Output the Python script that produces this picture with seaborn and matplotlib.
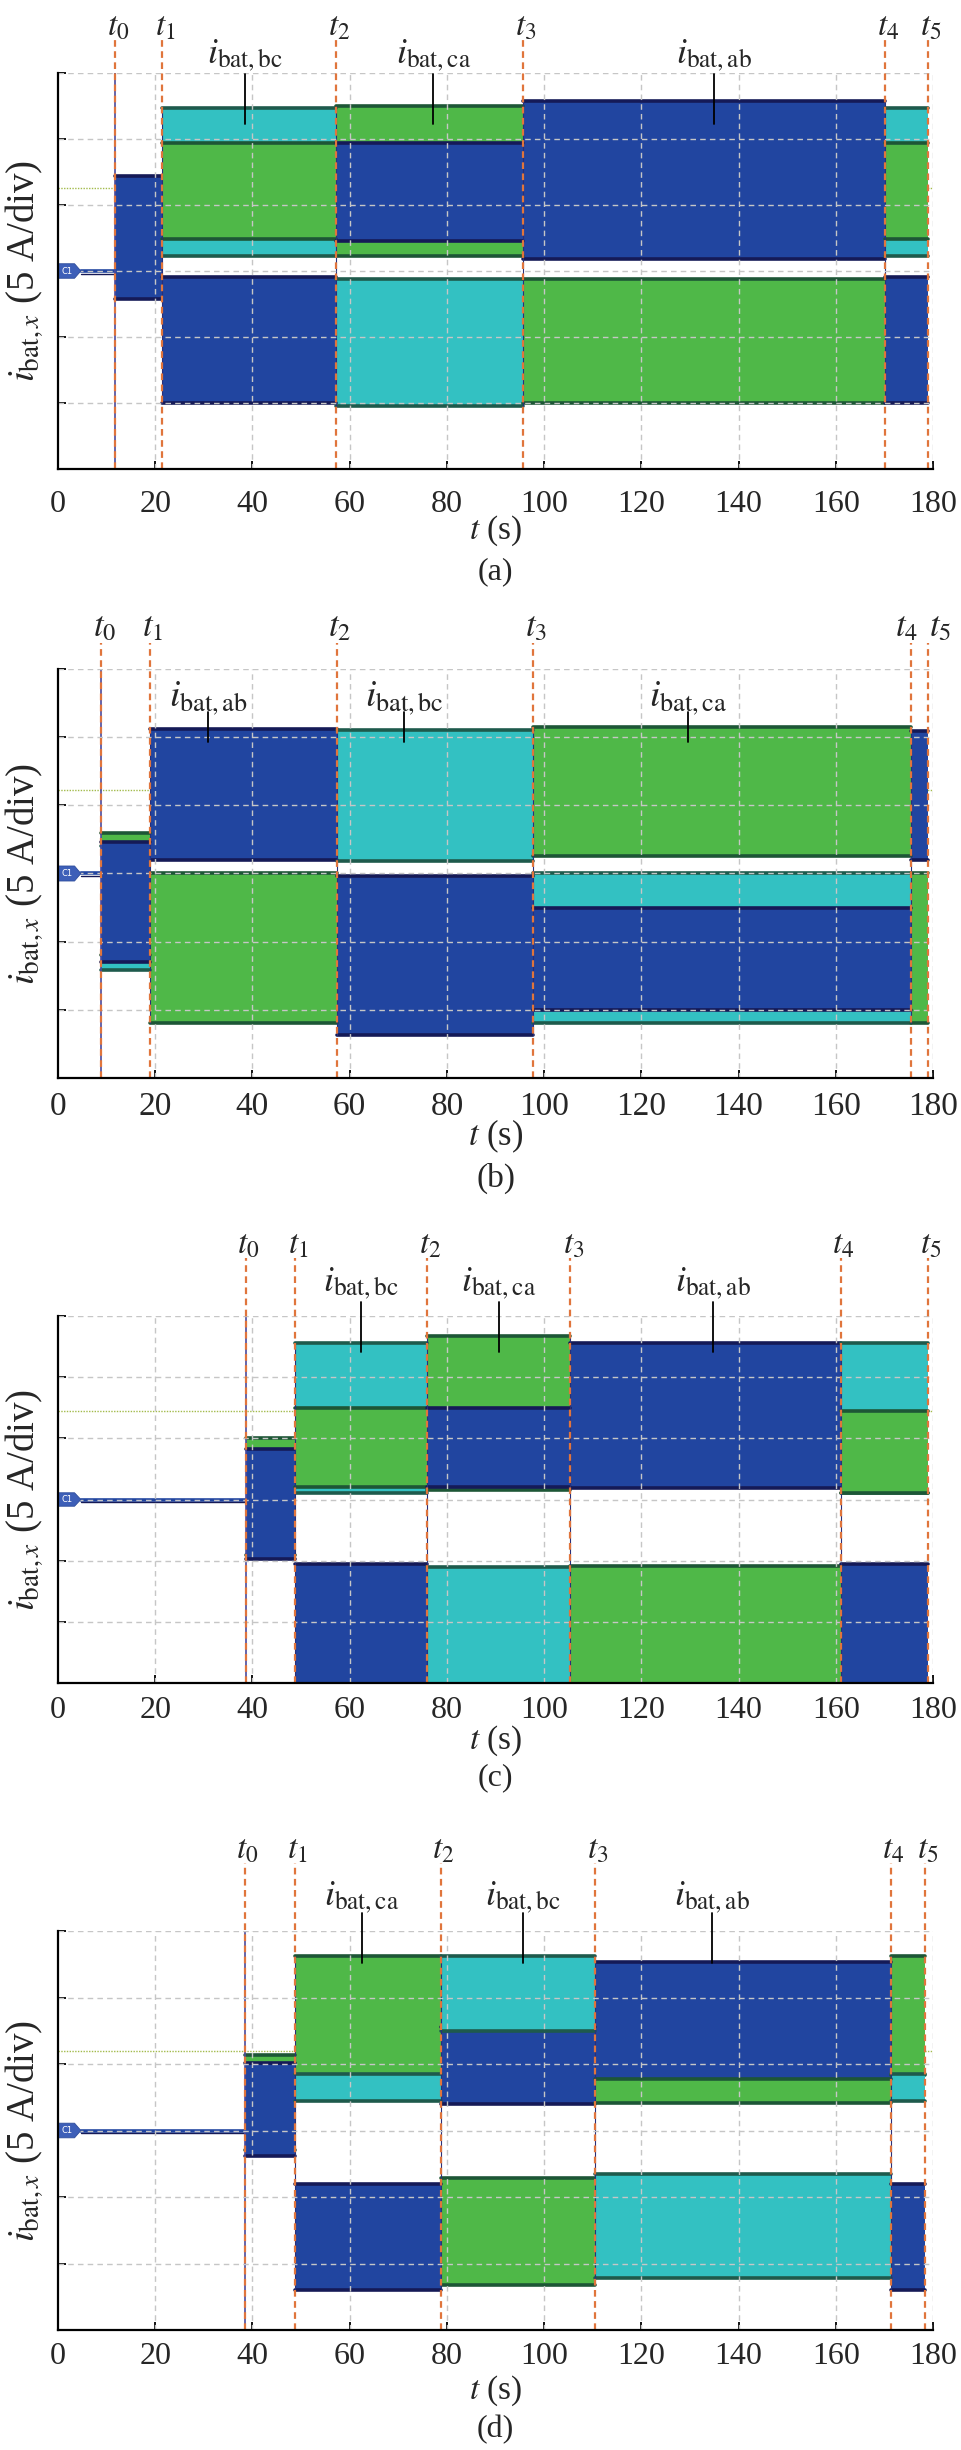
import seaborn as sns
import matplotlib.pyplot as plt
from matplotlib.patches import Polygon

# switching instants t0 ... t5 (s) of the four tests
t_a = [11.7, 21.4, 57.2, 95.7, 170.2, 179.0]
t_b = [8.9, 18.9, 57.4, 97.7, 175.5, 179.0]
t_c = [38.6, 48.8, 76.0, 105.4, 161.0, 178.9]
t_d = [38.4, 48.7, 78.7, 110.5, 171.3, 178.3]

# band of each battery current (div, 5 A/div) in the intervals t0-t1 ... t4-t5
# (lo, hi), None where the trace is not visible
ab_a = [(-0.42, 1.44), (-2.0, -0.09), (0.45, 1.94), (0.18, 2.58), (-2.0, -0.09)]
bc_a = [None, (0.23, 2.47), (-2.05, -0.12), None, (0.23, 2.47)]
ca_a = [None, (0.48, 1.94), (0.23, 2.5), (-2.0, -0.12), (0.48, 1.94)]

ab_b = [(-1.3, 0.46), (0.2, 2.12), (-2.37, -0.03), (-2.0, -0.5), (0.2, 2.09)]
bc_b = [(-1.42, 0.4), None, (0.18, 2.1), (-2.2, 0.0), None]
ca_b = [(-1.2, 0.6), (-2.2, 0.0), None, (0.26, 2.15), (-2.2, 0.0)]

ab_c = [(-0.97, 0.83), (-3.0, -1.05), (0.2, 1.5), (0.18, 2.56), (-3.0, -1.05)]
bc_c = [None, (0.1, 2.56), (-3.0, -1.1), None, (0.1, 2.56)]
ca_c = [(-0.9, 1.0), (0.21, 1.5), (0.15, 2.68), (-3.0, -1.08), (0.11, 1.45)]

ab_d = [(-0.38, 1.02), (-2.4, -0.8), (0.4, 1.55), (0.75, 2.53), (-2.4, -0.8)]
bc_d = [None, (0.45, 0.85), (1.5, 2.62), (-2.22, -0.66), (0.45, 0.85)]
ca_d = [(-0.3, 1.13), (0.83, 2.63), (-2.32, -0.72), (0.42, 0.77), (0.83, 2.63)]

# trigger level marker (div)
trig = [1.26, 1.22, 1.44, 1.2]

# pointer labels: which current and where (s)
names_a = ['bc', 'ca', 'ab']
names_b = ['ab', 'bc', 'ca']
names_c = ['bc', 'ca', 'ab']
names_d = ['ca', 'bc', 'ab']
name_x_a = [38.5, 77.2, 135.0]
name_x_b = [30.9, 71.2, 129.6]
name_x_c = [62.3, 90.7, 134.7]
name_x_d = [62.5, 95.6, 134.6]

x_ticks = [0, 20, 40, 60, 80, 100, 120, 140, 160, 180]
panel_tags = ['(a)', '(b)', '(c)', '(d)']

BLUE = '#2145a0'
CYAN = '#33c1c2'
GREEN = '#4fb848'
FILL = {'ab': BLUE, 'bc': CYAN, 'ca': GREEN}
EDGE = {'ab': '#151a57', 'bc': '#1e5a4c', 'ca': '#1d5636'}
ORANGE = '#e0753c'
GRID = '#c6c6c6'

W, H = 962, 2450
X0, X1 = 58, 933
# pixel layout per panel: axes top/bottom, pointer text, pointer line top/bottom,
# t label, t line top, tick pad, x label, panel tag, font size, t label shifts
layout = [
    dict(top=73, bot=469, txt=55, l0=74, l1=124, tl=27, tt=40, pad=15, xl=531, tag=572, fs=23,
         shift=[0, 0, 0, 0, 0, 0]),
    dict(top=669, bot=1078, txt=698, l0=712, l1=742, tl=628, tt=643, pad=10, xl=1136, tag=1178, fs=24,
         shift=[0, 0, 0, 0, -1.6, 1.9]),
    dict(top=1316, bot=1683, txt=1283, l0=1302, l1=1352, tl=1245, tt=1258, pad=9, xl=1741, tag=1778, fs=23,
         shift=[0, 0, 0, 0, 0, 0]),
    dict(top=1931, bot=2330, txt=1897, l0=1913, l1=1963, tl=1850, tt=1863, pad=9, xl=2391, tag=2430, fs=23,
         shift=[0, 0, 0, 0, 0, 0]),
]

sns.set_theme(style='white')
plt.rcParams['font.family'] = ['Liberation Serif', 'DejaVu Serif']
plt.rcParams['mathtext.fontset'] = 'stix'

fig = plt.figure(figsize=(W / 100, H / 100), dpi=100)


def to_div(px, lay):
    div = (lay['bot'] - lay['top']) / 6
    return 3 - (px - lay['top']) / div


def draw_panel(lay, t, ab, bc, ca, level, names, name_x, tag):
    ax = fig.add_axes([X0 / W, 1 - lay['bot'] / H, (X1 - X0) / W, (lay['bot'] - lay['top']) / H])
    ax.set_xlim(0, 180)
    ax.set_ylim(-3, 3)
    fs = lay['fs']

    # trigger level marker
    ax.axhline(level, color='#a3bb4c', lw=1.0, ls=(0, (1, 1)), zorder=0.5)

    # channel marker and idle trace before t0
    ax.add_patch(Polygon([[0, -0.11], [3.4, -0.11], [4.7, 0], [3.4, 0.11], [0, 0.11]],
                         closed=True, fc='#3d5fb8', ec='#2d4c9c', lw=0.6, zorder=6, clip_on=False))
    ax.text(1.9, 0, 'C1', fontsize=6, color='white', va='center', ha='center',
            family='DejaVu Sans', zorder=7)
    sns.lineplot(x=[4.7, t[0]], y=[0, 0], ax=ax, color=BLUE, lw=2.6, zorder=2)
    sns.lineplot(x=[4.7, t[0]], y=[-0.04, -0.04], ax=ax, color=EDGE['ab'], lw=1.0, zorder=2)

    # switched current bands
    for k in range(5):
        x0, x1 = t[k], t[k + 1]
        bands = [(n, b[k]) for n, b in (('ab', ab), ('bc', bc), ('ca', ca)) if b[k] is not None]
        bands.sort(key=lambda nb: nb[1][0] - nb[1][1])
        for z, (n, (lo, hi)) in enumerate(bands):
            zz = 1 + 0.1 * z
            ax.fill_between([x0, x1], lo, hi, color=FILL[n], lw=0, zorder=zz)
            for y in (lo, hi):
                if -3 < y < 3:
                    sns.lineplot(x=[x0, x1], y=[y, y], ax=ax, color=EDGE[n], lw=2.6, zorder=zz + 0.01)
        # transition between intervals
        if k > 0:
            ys = [v for b in (ab, bc, ca) for j in (k - 1, k) if b[j] is not None for v in b[j]]
            ax.plot([x0, x0], [min(ys), max(ys)], color='#2a2f78', lw=0.8, zorder=2.5)
    ax.plot([t[0], t[0]], [-3, 3], color='#4b4a9c', lw=1.2, zorder=2.5)

    # grid on top of the traces
    for y in range(-2, 4):
        ax.axhline(y, color=GRID, lw=1.0, ls=(0, (4, 3)), zorder=3)
    for x in x_ticks[1:]:
        ax.axvline(x, color=GRID, lw=1.0, ls=(0, (4, 3)), zorder=3)

    # switching instants
    y_top = to_div(lay['tt'], lay)
    y_lab = to_div(lay['tl'], lay)
    for i, ti in enumerate(t):
        ax.plot([ti, ti], [-3, y_top], color=ORANGE, lw=1.6, ls=(0, (3, 2)), zorder=4, clip_on=False)
        ax.text(ti + 0.6 + lay['shift'][i], y_lab, f'$t_{i}$', ha='center', va='center', fontsize=fs + 1)

    # pointer labels
    y_txt = to_div(lay['txt'], lay)
    for n, xn in zip(names, name_x):
        ax.plot([xn, xn], [to_div(lay['l0'], lay), to_div(lay['l1'], lay)], color='black', lw=1.3,
                zorder=5, clip_on=False)
        ax.text(xn, y_txt, r'$i_{\mathrm{bat,' + n + '}}$', ha='center', va='center', fontsize=fs + 3)

    sns.despine(ax=ax, top=True, right=True)
    for s in ('left', 'bottom'):
        ax.spines[s].set_color('black')
        ax.spines[s].set_linewidth(1.6)
        ax.spines[s].set_zorder(6)
    ax.set_yticks(range(-3, 4))
    ax.set_yticklabels([])
    ax.set_xticks(x_ticks)
    ax.set_xticklabels([str(v) for v in x_ticks])
    ax.tick_params(axis='both', direction='in', length=6, width=1.3, color='black',
                   labelsize=fs, pad=lay['pad'], left=True, bottom=True)
    ax.grid(False)
    ax.set_xlabel('')
    ax.set_ylabel('')

    xc = (X0 + X1) / 2 / W
    fig.text(xc, 1 - lay['xl'] / H, '$t$ (s)', ha='center', va='center', fontsize=fs + 1)
    fig.text(xc, 1 - lay['tag'] / H, tag, ha='center', va='center', fontsize=fs)
    yc = 1 - (lay['top'] + lay['bot']) / 2 / H
    fig.text(24 / W, yc, r'$i_{\mathrm{bat},x}$ (5 A/div)', rotation=90, ha='center', va='center',
             fontsize=28)


draw_panel(layout[0], t_a, ab_a, bc_a, ca_a, trig[0], names_a, name_x_a, panel_tags[0])
draw_panel(layout[1], t_b, ab_b, bc_b, ca_b, trig[1], names_b, name_x_b, panel_tags[1])
draw_panel(layout[2], t_c, ab_c, bc_c, ca_c, trig[2], names_c, name_x_c, panel_tags[2])
draw_panel(layout[3], t_d, ab_d, bc_d, ca_d, trig[3], names_d, name_x_d, panel_tags[3])

fig.savefig('out.png', dpi=100)
